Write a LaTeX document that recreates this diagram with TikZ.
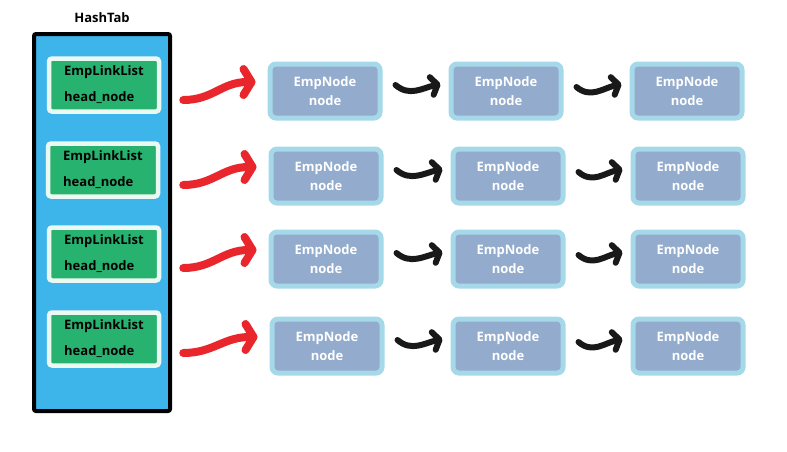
\documentclass[tikz,border=0pt]{standalone}
\usepackage{fontspec}
\setmainfont{Open Sans}
\usepackage{xcolor}
\usetikzlibrary{arrows.meta}

\definecolor{tabblue}{RGB}{62,181,234}
\definecolor{listgreen}{RGB}{40,178,112}
\definecolor{halowhite}{RGB}{236,248,242}
\definecolor{empfill}{RGB}{147,171,204}
\definecolor{empedge}{RGB}{165,217,233}
\definecolor{linkred}{RGB}{232,38,44}
\definecolor{linkblack}{RGB}{25,25,25}

\begin{document}
\begin{tikzpicture}[x=1pt, y=-1pt,
  hashtab/.style={draw=black, line width=4pt, fill=tabblue, rounded corners=2pt,
    minimum width=136pt, minimum height=377pt},
  headbox/.style={draw=halowhite, line width=4.5pt, fill=listgreen, rounded corners=3pt,
    minimum width=110pt, minimum height=53pt, align=left, inner sep=0pt,
    font=\bfseries\fontsize{13}{26}\selectfont},
  empbox/.style={draw=empedge, line width=5pt, fill=empfill, rounded corners=6pt,
    minimum width=110pt, minimum height=54pt, align=center, inner sep=0pt, text=white,
    font=\bfseries\fontsize{13}{19}\selectfont},
  redlink/.style={linkred, line width=8pt, line cap=round,
    -{Straight Barb[length=8pt,width=26pt,round]}},
  blacklink/.style={linkblack, line width=6pt, line cap=round,
    -{Straight Barb[length=6pt,width=18pt,round]}}
]
\useasboundingbox (0,0) rectangle (787,451);

% the table
\node[hashtab] (tab) at (102,222.5) {};
\node[font=\bfseries\fontsize{13}{15}\selectfont] (title) at (102,18) {HashTab};

\node[headbox] (head1) at (104,85) {EmpLinkList\\head\_node};
\node[headbox] (head2) at (103,170) {EmpLinkList\\head\_node};
\node[headbox] (head3) at (104,254) {EmpLinkList\\head\_node};
\node[headbox] (head4) at (104,339) {EmpLinkList\\head\_node};

% the nodes of each list
\node[empbox] (emp1a) at (325,91) {EmpNode\\node};
\node[empbox] (emp1b) at (506,91) {EmpNode\\node};
\node[empbox] (emp1c) at (687,91) {EmpNode\\node};

\node[empbox] (emp2a) at (326,176) {EmpNode\\node};
\node[empbox] (emp2b) at (508,176) {EmpNode\\node};
\node[empbox] (emp2c) at (688,176) {EmpNode\\node};

\node[empbox] (emp3a) at (326,259) {EmpNode\\node};
\node[empbox] (emp3b) at (508,259) {EmpNode\\node};
\node[empbox] (emp3c) at (688,259) {EmpNode\\node};

\node[empbox] (emp4a) at (327,346) {EmpNode\\node};
\node[empbox] (emp4b) at (508,346) {EmpNode\\node};
\node[empbox] (emp4c) at (688,346) {EmpNode\\node};

% head links
\draw[redlink] ([shift={(22,15)}]head1.east) .. controls +(30,0) and +(-34,0) .. ([shift={(-12,-9)}]emp1a.west);
\draw[redlink] ([shift={(23,15)}]head2.east) .. controls +(30,0) and +(-34,0) .. ([shift={(-12,-9)}]emp2a.west);
\draw[redlink] ([shift={(22,14)}]head3.east) .. controls +(30,0) and +(-34,0) .. ([shift={(-12,-9)}]emp3a.west);
\draw[redlink] ([shift={(22,14)}]head4.east) .. controls +(30,0) and +(-34,0) .. ([shift={(-12,-9)}]emp4a.west);

% next links
\draw[blacklink] ([shift={(13,-6)}]emp1a.east) .. controls +(14,12) and +(-18,4) .. ([shift={(-8,-7)}]emp1b.west);
\draw[blacklink] ([shift={(13,-4)}]emp1b.east) .. controls +(14,12) and +(-18,4) .. ([shift={(-8,-7)}]emp1c.west);
\draw[blacklink] ([shift={(13,-6)}]emp2a.east) .. controls +(14,12) and +(-18,4) .. ([shift={(-8,-7)}]emp2b.west);
\draw[blacklink] ([shift={(13,-4)}]emp2b.east) .. controls +(14,12) and +(-18,4) .. ([shift={(-8,-7)}]emp2c.west);
\draw[blacklink] ([shift={(13,-6)}]emp3a.east) .. controls +(14,12) and +(-18,4) .. ([shift={(-8,-7)}]emp3b.west);
\draw[blacklink] ([shift={(13,-4)}]emp3b.east) .. controls +(14,12) and +(-18,4) .. ([shift={(-8,-7)}]emp3c.west);
\draw[blacklink] ([shift={(13,-6)}]emp4a.east) .. controls +(14,12) and +(-18,4) .. ([shift={(-8,-7)}]emp4b.west);
\draw[blacklink] ([shift={(13,-4)}]emp4b.east) .. controls +(14,12) and +(-18,4) .. ([shift={(-8,-7)}]emp4c.west);

\end{tikzpicture}
\end{document}
